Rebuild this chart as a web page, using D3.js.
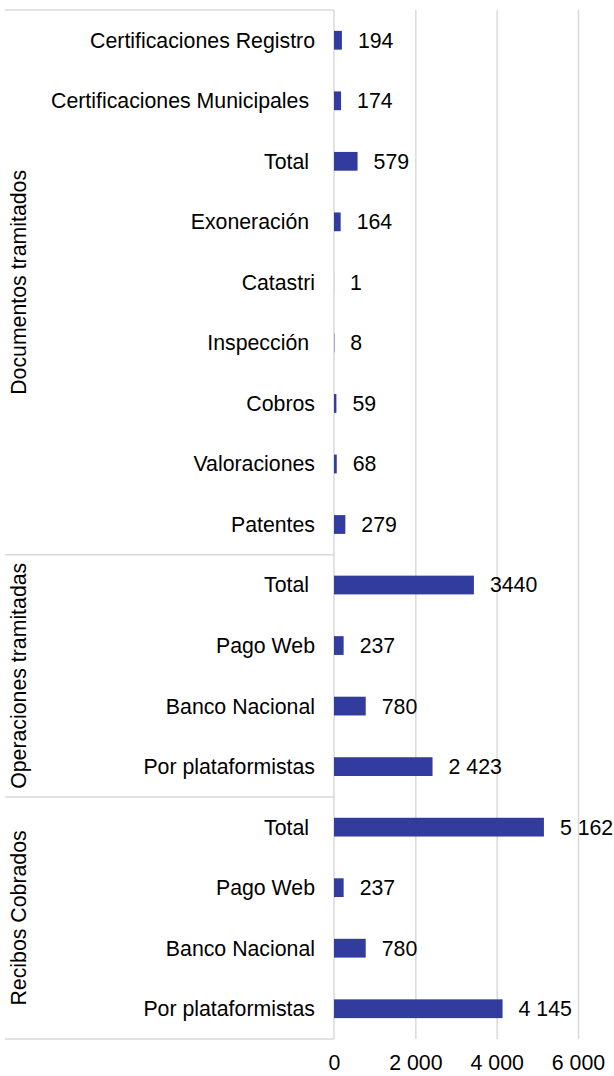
<!DOCTYPE html>
<html>
<head>
<meta charset="utf-8">
<script src="https://cdn.jsdelivr.net/npm/d3@7"></script>
<style>
  body { margin: 0; background: #fff; }
  text { font-family: "Liberation Sans", Arial, sans-serif; fill: #000; }
</style>
</head>
<body>
<svg id="chart" width="614" height="1076"></svg>
<script>
// data
var categories = ["Certificaciones Registro", "Certificaciones Municipales\u00A0", "Total\u00A0", "Exoneración\u00A0",
    "Catastri", "Inspección\u00A0", "Cobros", "Valoraciones", "Patentes",
    "Total\u00A0", "Pago Web", "Banco Nacional", "Por plataformistas",
    "Total\u00A0", "Pago Web", "Banco Nacional", "Por plataformistas"];
var values = [194, 174, 579, 164, 1, 8, 59, 68, 279, 3440, 237, 780, 2423, 5162, 237, 780, 4145];
var valueLabels = ["194", "174", "579", "164", "1", "8", "59", "68", "279", "3440", "237", "780", "2 423", "5 162", "237", "780", "4 145"];
var groups = ["Documentos tramitados", "Operaciones tramitadas", "Recibos Cobrados"];
var groupSizes = [9, 4, 4];
var tickValues = [0, 2000, 4000, 6000];
var tickLabels = ["0", "2 000", "4 000", "6 000"];

var svg = d3.select("#chart"),
    margin = { top: 10, left: 334, right: 36, bottom: 37 },
    width = +svg.attr("width") - margin.left - margin.right,
    height = +svg.attr("height") - margin.top - margin.bottom,
    fontSize = "21.3px";

var x = d3.scaleLinear().domain([0, 6000]).range([0, width]);
var y = d3.scaleBand()
    .domain(d3.range(categories.length))
    .range([0, height])
    .paddingInner(0.69)
    .paddingOuter(0.345);

var g = svg.append("g")
    .attr("transform", "translate(" + margin.left + "," + margin.top + ")");

// gridlines
g.append("g")
    .attr("class", "grid")
    .call(d3.axisBottom(x).tickValues(tickValues.slice(1)).tickSize(height).tickFormat(""))
    .call(function (s) {
        s.select(".domain").remove();
        s.selectAll("line").attr("stroke", "#d9d9d9").attr("stroke-width", 1.5);
    });

// group separators on the left
var bounds = [0];
groupSizes.forEach(function (n, i) { bounds.push(bounds[i] + n); });
var step = y.step();

g.selectAll(".sep")
    .data(bounds)
    .enter().append("line")
    .attr("x1", -329).attr("x2", 0)
    .attr("y1", function (d) { return d * step; })
    .attr("y2", function (d) { return d * step; })
    .attr("stroke", "#d9d9d9")
    .attr("stroke-width", 1.5);

// vertical axis line
g.append("line")
    .attr("x1", 0).attr("x2", 0)
    .attr("y1", 0).attr("y2", height)
    .attr("stroke", "#d9d9d9")
    .attr("stroke-width", 1.5);

// group labels
g.selectAll(".group-label")
    .data(groups)
    .enter().append("text")
    .attr("class", "group-label")
    .attr("transform", function (d, i) {
        var cy = (bounds[i] + bounds[i + 1]) / 2 * step;
        return "translate(" + (19 - margin.left) + "," + cy + ") rotate(-90)";
    })
    .attr("text-anchor", "middle")
    .attr("dy", "0.35em")
    .style("font-size", fontSize)
    .text(function (d) { return d; });

// category labels
g.selectAll(".cat")
    .data(categories)
    .enter().append("text")
    .attr("class", "cat")
    .attr("x", -19)
    .attr("y", function (d, i) { return y(i) + y.bandwidth() / 2; })
    .attr("dy", "0.35em")
    .attr("text-anchor", "end")
    .style("font-size", fontSize)
    .text(function (d) { return d; });

// bars
g.selectAll(".bar")
    .data(values)
    .enter().append("rect")
    .attr("class", "bar")
    .attr("x", x(0))
    .attr("y", function (d, i) { return y(i); })
    .attr("width", function (d) { return x(d); })
    .attr("height", y.bandwidth())
    .attr("fill", "#313c9e");

// value labels
g.selectAll(".val")
    .data(values)
    .enter().append("text")
    .attr("class", "val")
    .attr("x", function (d) { return x(d) + 16; })
    .attr("y", function (d, i) { return y(i) + y.bandwidth() / 2; })
    .attr("dy", "0.35em")
    .style("font-size", fontSize)
    .text(function (d, i) { return valueLabels[i]; });

// x axis labels
g.append("g")
    .attr("transform", "translate(0," + height + ")")
    .call(d3.axisBottom(x).tickValues(tickValues).tickSize(0).tickPadding(16)
        .tickFormat(function (d, i) { return tickLabels[i]; }))
    .call(function (s) {
        s.select(".domain").remove();
        s.selectAll("text").style("font-size", fontSize).attr("font-family", null).attr("fill", "#000");
    });
</script>
</body>
</html>
